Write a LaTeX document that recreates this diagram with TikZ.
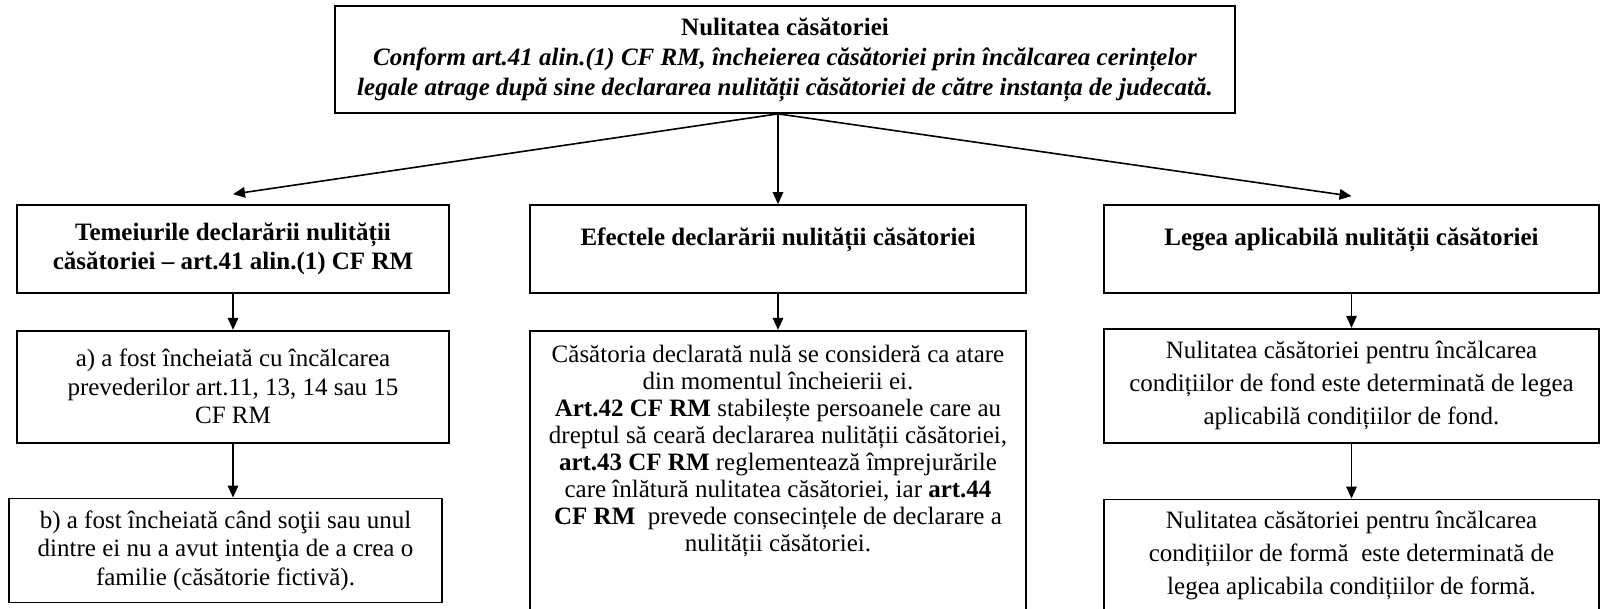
\documentclass[tikz,border=0pt]{standalone}
\usepackage{fontspec}
\setmainfont{Liberation Serif}
\usetikzlibrary{positioning, arrows.meta}

\begin{document}
\begin{tikzpicture}[x=1pt, y=-1pt,
        box/.style={rectangle, draw, line width=1.7pt, inner sep=0pt,
          align=center, font=\fontsize{25}{28.5}\selectfont},
        headbox/.style={box, minimum height=88pt, text height=17pt, text depth=23pt,
          font=\bfseries\fontsize{25}{27}\selectfont},
        midtext/.style={font=\fontsize{25}{27}\selectfont},
        righttext/.style={font=\fontsize{25}{33}\selectfont},
        arr/.style={-{Triangle[length=12pt, width=10.5pt]}, line width=1.6pt}]
      \useasboundingbox (0,0) rectangle (1601,609);
      \clip (0,0) rectangle (1601,609);
      % titlu
      \node[box, minimum width=900pt, minimum height=107pt,
        font=\bfseries\fontsize{25}{30}\selectfont] (tb) at (785,59.5)
        {Nulitatea căsătoriei\\
         \textit{Conform art.41 alin.(1) CF RM, încheierea căsătoriei prin încălcarea cerințelor}\\
         \textit{legale atrage după sine declararea nulității căsătoriei de către instanța de judecată.}};
      % coloana stanga
      \node[box, minimum width=432pt, minimum height=88pt, font=\bfseries\fontsize{25}{28.5}\selectfont]
        (temei) at (233,249) {Temeiurile declarării nulității\\căsătoriei – art.41 alin.(1) CF RM};
      \node[box, minimum width=432pt, minimum height=112pt, below=36pt of temei] (lita)
        {a) a fost încheiată cu încălcarea\\prevederilor art.11, 13, 14 sau 15\\CF RM};
      \node[box, minimum width=433pt, minimum height=104pt, below=54pt of lita, xshift=-7.5pt] (litb)
        {b) a fost încheiată când soţii sau unul\\dintre ei nu a avut intenţia de a crea o\\familie (căsătorie fictivă).};
      % coloana mijloc
      \node[headbox, minimum width=496pt] (efect) at (778,249) {Efectele declarării nulității căsătoriei};
      \node[box, midtext, minimum width=496pt, inner ysep=14pt, below=36pt of efect] (efecttxt)
        {Căsătoria declarată nulă se consideră ca atare\\
         din momentul încheierii ei.\\
         \textbf{Art.42 CF RM} stabilește persoanele care au\\
         dreptul să ceară declararea nulității căsătoriei,\\
         \textbf{art.43 CF RM} reglementează împrejurările\\
         care înlătură nulitatea căsătoriei, iar \textbf{art.44}\\
         \textbf{CF RM}~ prevede consecințele de declarare a\\
         nulității căsătoriei.\\[80pt]~};
      % coloana dreapta
      \node[headbox, minimum width=495pt] (lege) at (1351.5,249) {Legea aplicabilă nulității căsătoriei};
      \node[box, righttext, minimum width=495pt, minimum height=114pt, below=34pt of lege] (fond)
        {Nulitatea căsătoriei pentru încălcarea\\condițiilor de fond este determinată de legea\\aplicabilă condițiilor de fond.};
      \node[box, righttext, minimum width=495pt, inner ysep=12pt, below=55pt of fond] (forma)
        {Nulitatea căsătoriei pentru încălcarea\\condițiilor de formă~ este determinată de\\legea aplicabila condițiilor de formă.\\[60pt]~};
      % sageti
      \coordinate (split) at (tb.south -| efect.north);
      \draw[arr] (split) -- ([yshift=10pt]temei.north);
      \draw[arr] (split) -- (efect.north);
      \draw[arr] (split) -- ([yshift=8pt]lege.north);
      \draw[arr] (temei.south) -- (lita.north);
      \draw[arr] (lita.south) -- (lita.south |- litb.north);
      \draw[arr] (efect.south) -- (efecttxt.north);
      \draw[arr] (lege.south) -- (fond.north);
      \draw[arr] (fond.south) -- (forma.north);
    \end{tikzpicture}
\end{document}
